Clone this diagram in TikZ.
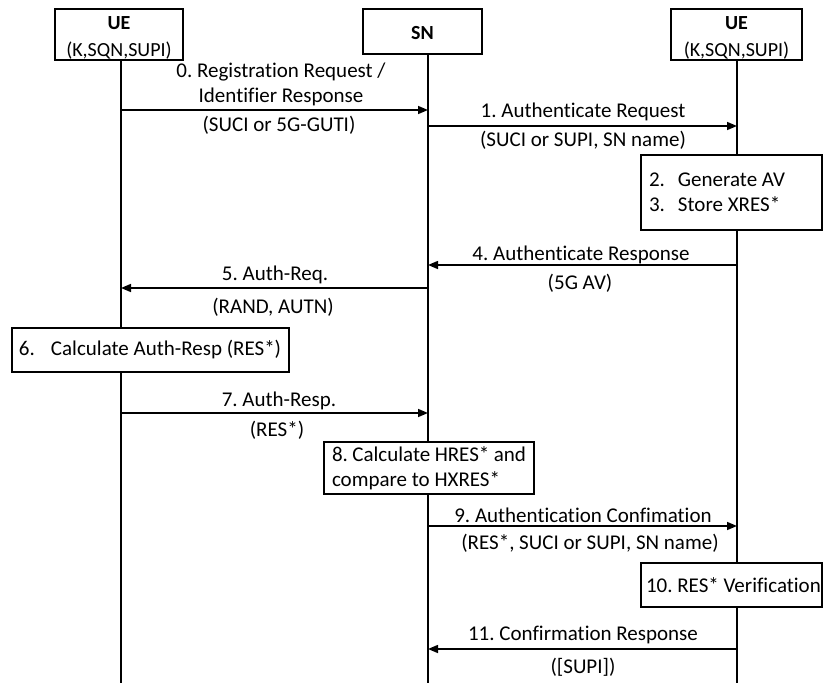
\documentclass[tikz,border=0pt]{standalone}
\usepackage{fontspec}
\setmainfont[Ligatures=NoCommon]{Carlito}
\usetikzlibrary{arrows.meta}
\frenchspacing
\begin{document}
\begin{tikzpicture}[x=1pt,y=-1pt,
  every node/.style={font=\fontsize{21}{25}\selectfont, inner sep=0pt},
  entity/.style={draw, line width=1.6pt, fill=white},
  entity text/.style={align=center, font=\fontsize{20}{27}\selectfont},
  step box/.style={draw, line width=1.3pt, fill=white, align=left, inner xsep=8pt,
    execute at begin node={\spaceskip=0pt\xspaceskip=0pt}},
  life/.style={line width=1.5pt},
  msg/.style={line width=1.5pt, -{Triangle[length=10pt,width=8pt]}},
  lbl/.style={align=center}]
\useasboundingbox (0,0) rectangle (823,683);

% entities
\node[entity, minimum width=128pt, minimum height=51pt] (ueA) at (119,34.5) {};
\node[entity text] (ueAtxt) at (119,37.5) {\textbf{UE}\\(K,SQN,SUPI)};
\node[entity, minimum width=119pt, minimum height=45pt] (sn) at (422.5,31.5) {};
\node[entity text] (sntxt) at (422.5,33) {\textbf{SN}};
\node[entity, minimum width=131pt, minimum height=51pt] (ueB) at (736.5,34.5) {};
\node[entity text] (ueBtxt) at (736.5,37.5) {\textbf{UE}\\(K,SQN,SUPI)};

% lifelines
\coordinate (ueAtop) at (121,60);   \coordinate (ueAbot) at (121,683);
\coordinate (sntop)  at (428,54);   \coordinate (snbot)  at (428,683);
\coordinate (ueBtop) at (737,60);   \coordinate (ueBbot) at (737,683);
\draw[life] (ueAtop) -- (ueAbot);
\draw[life] (sntop) -- (snbot);
\draw[life] (ueBtop) -- (ueBbot);

% processing steps
\node[step box, text width=165pt, minimum height=75pt] (s23) at (731.5,192.5)
  {\makebox[29pt][l]{2.}Generate AV\\\makebox[29pt][l]{3.}Store XRES*};
\node[step box, inner xsep=7pt, text width=263pt, minimum height=44pt] (s6) at (150.5,350)
  {\makebox[32pt][l]{6.}Calculate Auth-Resp (RES*)};
\node[step box, text width=194pt, minimum height=52pt] (s8) at (429,468)
  {8. Calculate HRES* and\\compare to HXRES*};
\node[step box, inner xsep=5pt, text width=171pt, minimum height=44pt] (s10) at (731.5,585)
  {\mbox{10. RES* Verification}};

% message end points on the lifelines
\coordinate (m0a) at (121,110);  \coordinate (m0b) at (428,110);
\coordinate (m1a) at (428,126);  \coordinate (m1b) at (737,126);
\coordinate (m4a) at (737,265);  \coordinate (m4b) at (428,265);
\coordinate (m5a) at (428,288);  \coordinate (m5b) at (121,288);
\coordinate (m7a) at (121,413);  \coordinate (m7b) at (428,413);
\coordinate (m9a) at (428,526);  \coordinate (m9b) at (737,526);
\coordinate (m11a) at (737,649); \coordinate (m11b) at (428,649);

% messages
\draw[msg] (m0a) -- (m0b);
\draw[msg] (m1a) -- (m1b);
\draw[msg] (m4a) -- (m4b);
\draw[msg] (m5a) -- (m5b);
\draw[msg] (m7a) -- (m7b);
\draw[msg] (m9a) -- (m9b);
\draw[msg] (m11a) -- (m11b);

% message labels
\node[lbl] (l0) at (281,84.5) {0. Registration Request /\\Identifier Response};
\node[lbl] (l0p) at (279,125) {(SUCI or 5G-GUTI)};
\node[lbl] (l1) at (583,112) {1. Authenticate Request};
\node[lbl] (l1p) at (583,140) {(SUCI or SUPI, SN name)};
\node[lbl] (l4) at (581,255) {4. Authenticate Response};
\node[lbl] (l4p) at (580,283) {(5G AV)};
\node[lbl] (l5) at (275,275) {5. Auth-Req.};
\node[lbl] (l5p) at (273,307) {(RAND, AUTN)};
\node[lbl] (l7) at (279,401) {7. Auth-Resp.};
\node[lbl] (l7p) at (277,430) {(RES*)};
\node[lbl] (l9) at (583,515) {9. Authentication Confimation};
\node[lbl] (l9p) at (590,543) {(RES*, SUCI or SUPI, SN name)};
\node[lbl] (l11) at (583,635) {11. Confirmation Response};
\node[lbl] (l11p) at (583,667) {([SUPI])};
\end{tikzpicture}
\end{document}
